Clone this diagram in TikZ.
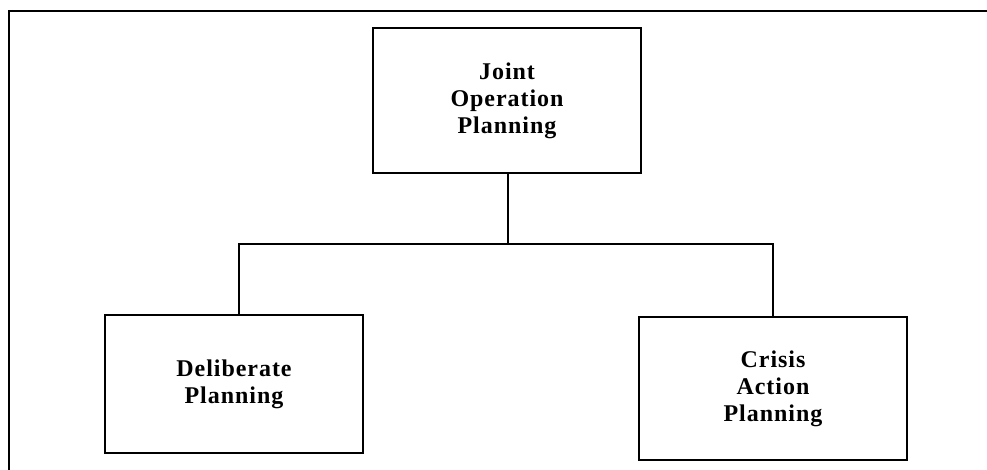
\documentclass[tikz,border=0pt]{standalone}
\usepackage{fontspec}
\setmainfont{Liberation Serif}[LetterSpace=4]
\begin{document}
\begin{tikzpicture}[x=1pt,y=-1pt,
  box/.style={draw,line width=1.2pt,inner sep=0pt,align=center,
    font=\fontsize{24}{27}\selectfont\bfseries},
  conn/.style={line width=1.1pt}]
\useasboundingbox (0,0) rectangle (987,470);
\draw[line width=1.5pt] (9,470) -- (9,11) -- (987,11);
\node[box,minimum width=268pt,minimum height=145pt] (jop) at (507,100.5) {Joint\\Operation\\Planning};
\node[box,minimum width=258pt,minimum height=138pt] (dp) at (234,384) {Deliberate\\Planning};
\node[box,minimum width=268pt,minimum height=143pt] (cap) at (773,388.5) {Crisis\\Action\\Planning};
\coordinate (mid) at (508,244);
\draw[conn] (jop.south -| mid) -- (mid);
\draw[conn] (dp.north -| 239,0) |- (mid) -| (cap.north);
\end{tikzpicture}
\end{document}
